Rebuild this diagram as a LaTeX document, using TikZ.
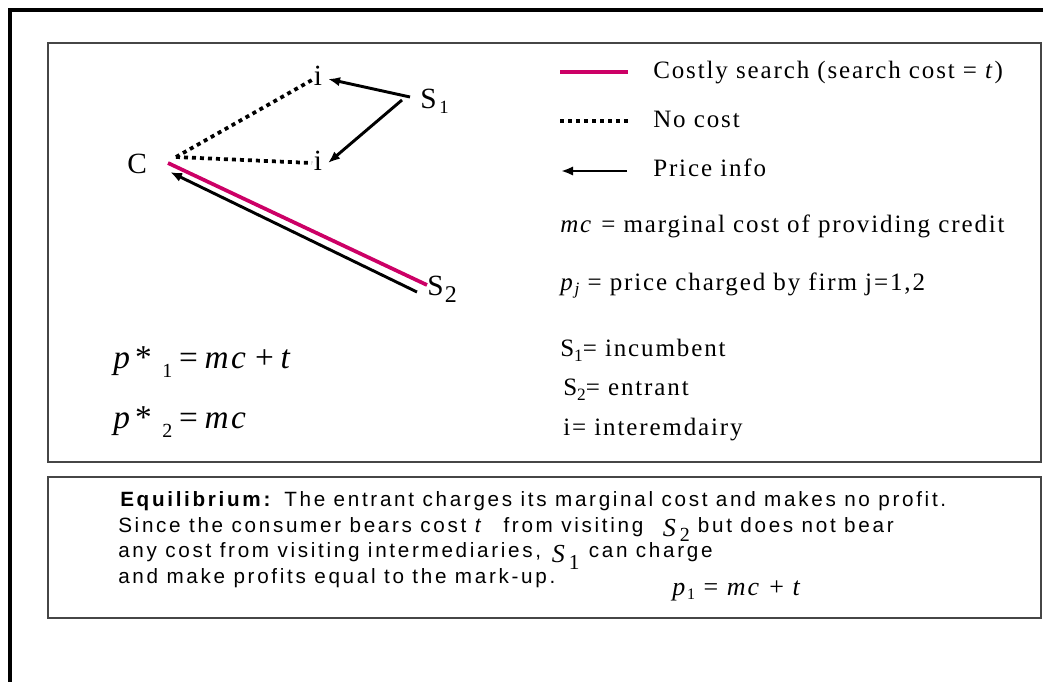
\documentclass[tikz,border=0pt]{standalone}
\usepackage{fontspec}
\setmainfont{Liberation Serif}
\newfontfamily\legfont[LetterSpace=7.5]{Liberation Serif}
\newfontfamily\boxfont[LetterSpace=13]{Liberation Sans}
\usetikzlibrary{arrows.meta}
\definecolor{costly}{RGB}{204,0,102}
\definecolor{boxgray}{RGB}{70,70,70}
\newcommand{\tmsS}{{\rmfamily\itshape\fontsize{19.5}{20}\selectfont S}}
\begin{document}
\begin{tikzpicture}[x=0.75pt,y=-0.75pt,
  lab/.style={inner sep=0pt, anchor=base west, font=\fontsize{22}{22}\selectfont},
  leg/.style={inner sep=0pt, anchor=base west, font=\legfont\fontsize{18.75}{20}\selectfont},
  formula/.style={inner sep=0pt, anchor=base west, font=\legfont\fontsize{25}{26}\selectfont},
  btxt/.style={inner sep=0pt, anchor=base west, font=\boxfont\fontsize{15.5}{16}\selectfont},
  panel/.style={draw=boxgray, line width=1.5pt},
  costline/.style={draw=costly, line width=2.8pt},
  nocost/.style={line width=2.8pt, dash pattern=on 3pt off 3pt},
  priceinfo/.style={line width=2.2pt, -{Latex[length=9pt,width=7pt]}},
]
\useasboundingbox (0,0) rectangle (1043,682);
% outer frame
\draw[line width=3pt] (10,682) -- (10,10) -- (1043,10);
% panels
\draw[panel] (48,43) rectangle (1041,462);
\draw[panel] (48,477) rectangle (1041,618);

% diagram nodes
\node[lab] (C) at (127,173) {C};
\node[lab, anchor=base] (i1) at (318,85) {i};
\node[lab, anchor=base] (i2) at (318,170) {i};
\node[lab] (S1) at (420,108) {S\hspace{2pt}\raisebox{-4pt}{\fontsize{14}{14}\selectfont 1}};
\node[lab] (S2) at (427,295) {S\hspace{1pt}\raisebox{-5.5pt}{\fontsize{18}{18}\selectfont 2}};

% connector end points
\coordinate (Cdot) at (176,157);
\coordinate (i1w) at (312,80);
\coordinate (i2w) at (312,163);
\coordinate (i1e) at (328,79);
\coordinate (i2e) at (328,163);
\coordinate (S1a) at (410,97);
\coordinate (S1b) at (402,100);
\coordinate (Cm) at (168,163);
\coordinate (S2m) at (427,285);
\coordinate (S2b) at (417,292);
\coordinate (Cb) at (170,172);

\draw[nocost] (Cdot) -- (i1w);
\draw[nocost] (Cdot) -- (i2w);
\draw[priceinfo] (S1a) -- (i1e);
\draw[priceinfo] (S1b) -- (i2e);
\draw[priceinfo] (S2b) -- (Cb);
\draw[costline] (Cm) -- (S2m);

% legend
\coordinate (k1a) at (560,72);  \coordinate (k1b) at (628,72);
\coordinate (k2a) at (560,121); \coordinate (k2b) at (628,121);
\coordinate (k3a) at (561,171); \coordinate (k3b) at (627,171);
\draw[costline] (k1a) -- (k1b);
\draw[nocost] (k2a) -- (k2b);
\draw[priceinfo] (k3b) -- (k3a);
\node[leg] (l1) at (653,78) {Costly search (search cost = \textit{t})};
\node[leg] (l2) at (653,127) {No cost};
\node[leg] (l3) at (653,176) {Price info};
\node[leg] (l4) at (560,232) {\textit{mc} = marginal cost of providing credit};
\node[leg] (l5) at (560,290) {\textit{p}\raisebox{-3pt}{\fontsize{13}{13}\selectfont\itshape j} = price charged by firm j=1,2};
\node[leg] (l6) at (560,356) {S\raisebox{-4pt}{\fontsize{13}{13}\selectfont 1}= incumbent};
\node[leg] (l7) at (563,395) {S\raisebox{-4pt}{\fontsize{13}{13}\selectfont 2}= entrant};
\node[leg] (l8) at (563,435) {i= interemdairy};

% equilibrium prices
\node[formula] (f1) at (113,368) {\textit{p}\hspace{2pt}*\hspace{8pt}\raisebox{-7pt}{\fontsize{15}{15}\selectfont 1}\hspace{5pt}=\hspace{5pt}\textit{mc}\hspace{5pt}+\hspace{5pt}\textit{t}};
\node[formula] (f2) at (113,428) {\textit{p}\hspace{2pt}*\hspace{8pt}\raisebox{-7pt}{\fontsize{15}{15}\selectfont 2}\hspace{5pt}=\hspace{5pt}\textit{mc}};

% bottom panel text
\node[btxt] (e1) at (120,506) {\textbf{Equilibrium:} The entrant charges its marginal cost and makes no profit.};
\node[btxt] (e2) at (118,532) {Since the consumer bears cost \textit{t}\ \ \hspace{2pt}from visiting\ \ \hspace{2pt}\raisebox{-3pt}{\tmsS\hspace{3pt}\raisebox{-4pt}{\rmfamily\fontsize{15}{15}\selectfont 2}}\hspace{6pt}but does not bear};
\node[btxt] (e3) at (118,557) {any cost from visiting intermediaries,\hspace{8pt}\raisebox{-4pt}{\tmsS\hspace{3pt}\raisebox{-5pt}{\rmfamily\fontsize{16}{16}\selectfont 1}}\hspace{7pt}can charge};
\node[btxt] (e4) at (118,583) {and make profits equal to the mark-up.};
\node[formula, font=\legfont\fontsize{19.5}{20}\selectfont] (p1) at (672,595) {\textit{p}\raisebox{-3pt}{\fontsize{12}{12}\selectfont 1} = \textit{mc} + \textit{t}};
\end{tikzpicture}
\end{document}
